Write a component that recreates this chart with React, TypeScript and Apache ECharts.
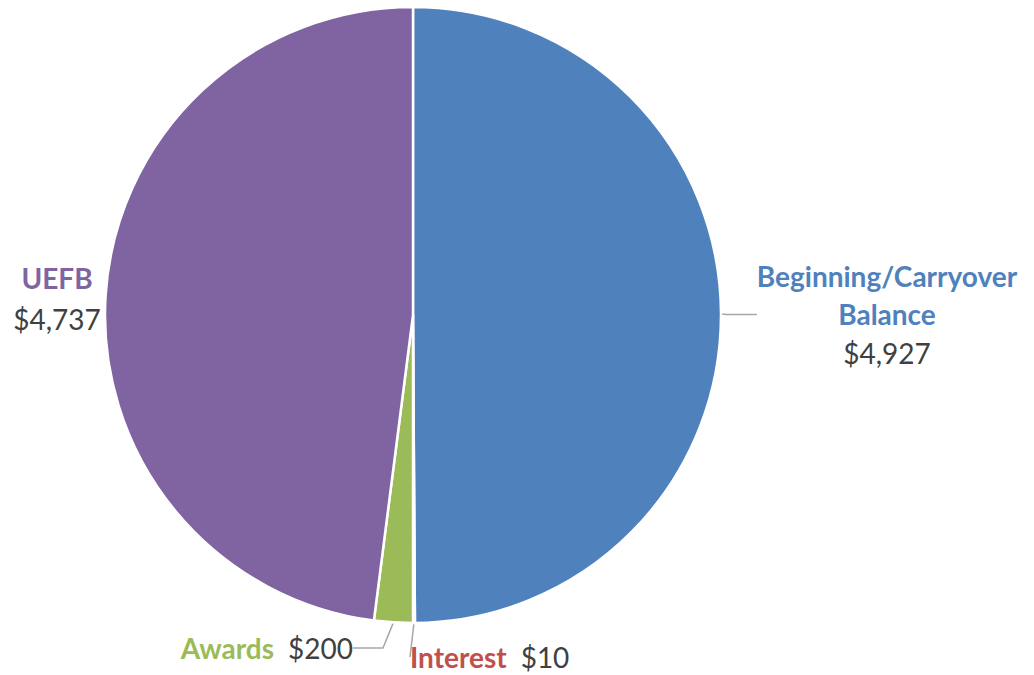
import React, { useEffect, useRef } from "react";
import * as echarts from "echarts";

const categories = ["Beginning/Carryover Balance", "Interest", "Awards", "UEFB"];
const displayNames = ["Beginning/Carryover\nBalance", "Interest", "Awards", "UEFB"];
const values = [4927, 10, 200, 4737];
const colors = ["#4F81BD", "#C0504D", "#9BBB59", "#8064A2"];
const nameStyles = ["nb", "nr", "ng", "np"];

const fmt = (v: number) => "$" + v.toLocaleString("en-US");

export default function App() {
  const ref = useRef<HTMLDivElement>(null);
  useEffect(() => {
    if (!ref.current) return;
    const chart = echarts.init(ref.current, null, { renderer: "svg" });
    const font = "Lato, 'Open Sans', sans-serif";
    const nameRich = (c: string, lh: number) => ({ color: c, fontWeight: "bold" as const, fontSize: 28, fontFamily: font, lineHeight: lh, align: "center" as const });
    const valRich = { color: "#404040", fontSize: 28, fontFamily: font, lineHeight: 40, align: "center" as const };
    const valRichInline = { ...valRich, lineHeight: 30, padding: [0, 0, 0, 14] };
    // label layouts (position only)
    const layouts: any[] = [
      { x: 887, y: 315, align: "center", verticalAlign: "middle" },
      { x: 410, y: 657, align: "left", verticalAlign: "middle" },
      { x: 353, y: 648, align: "right", verticalAlign: "middle" },
      { x: 57, y: 298, align: "center", verticalAlign: "middle" },
    ];
    const data = categories.map((c, i) => {
      const multi = i === 0 || i === 3;
      const sep = multi ? "\n" : "";
      const vStyle = multi ? "v" : "vi";
      const parts = displayNames[i].split("\n").map((p) => `{${nameStyles[i]}|${p}}`).join("\n");
      return {
        name: c,
        value: values[i],
        itemStyle: { color: colors[i] },
        label: {
          formatter: `${parts}${sep}{${vStyle}|${fmt(values[i])}}`,
        },
        labelLine: { show: i !== 3 },
      };
    });
    chart.setOption({
      animation: false,
      series: [
        {
          type: "pie",
          center: [413, 315],
          radius: [0, 308],
          startAngle: 90,
          clockwise: true,
          data,
          itemStyle: { borderColor: "#ffffff", borderWidth: 2.5 },
          label: {
            show: true,
            position: "outside",
            overflow: "none",
            rich: {
              nb: nameRich(colors[0], 38),
              nr: nameRich(colors[1], 30),
              ng: nameRich(colors[2], 30),
              np: nameRich(colors[3], 42),
              v: valRich,
              vi: valRichInline,
            },
          },
          labelLine: { show: true, lineStyle: { color: "#A6A6A6", width: 1.5 } },
          labelLayout: (p: any) => layouts[p.dataIndex],
        },
      ],
    });
    return () => chart.dispose();
  }, []);
  return <div ref={ref} style={{ position: "fixed", left: 0, top: 0, width: 1034, height: 675, background: "#fff" }} />;
}
